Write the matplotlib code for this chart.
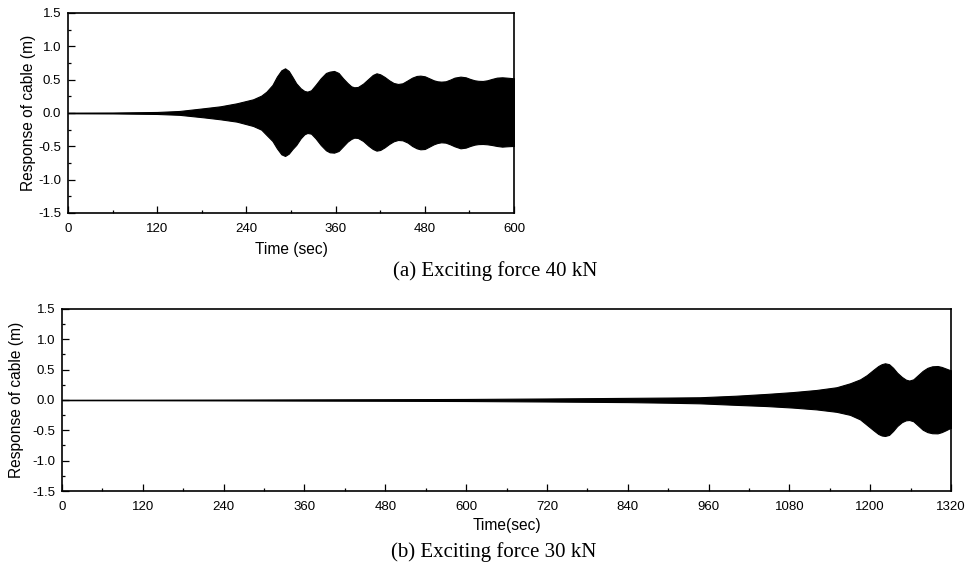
import numpy as np
import matplotlib
matplotlib.use("Agg")
from matplotlib import pyplot as plt
from matplotlib.ticker import MultipleLocator

plt.rcParams['font.family'] = ['Liberation Sans', 'DejaVu Sans']
plt.rcParams['axes.unicode_minus'] = False

# envelope of the cable response
# (a) exciting force 40 kN
t_a = [0, 60, 120, 150, 182, 205, 227, 249, 260, 267, 275, 281, 287, 292, 297,
       302, 307, 313, 318, 322, 327, 333, 340, 347, 352, 358, 364, 370, 376, 381,
       385, 390, 397, 404, 410, 415, 420, 426, 432, 438, 444, 450, 457, 463, 469,
       474, 480, 486, 492, 497, 502, 508, 514, 520, 528, 535, 541, 547, 552, 558,
       564, 570, 577, 584, 590, 595, 600]
up_a = [0.005, 0.007, 0.015, 0.03, 0.07, 0.10, 0.145, 0.205, 0.26, 0.32, 0.42, 0.545, 0.64, 0.67, 0.63,
        0.54, 0.445, 0.37, 0.33, 0.32, 0.34, 0.42, 0.52, 0.60, 0.62, 0.63, 0.60, 0.52, 0.45, 0.40,
        0.385, 0.39, 0.44, 0.51, 0.57, 0.595, 0.58, 0.54, 0.49, 0.45, 0.435, 0.445, 0.49, 0.53, 0.555,
        0.56, 0.55, 0.52, 0.49, 0.475, 0.47, 0.475, 0.50, 0.53, 0.545, 0.535, 0.51, 0.49, 0.482, 0.48,
        0.49, 0.51, 0.53, 0.535, 0.53, 0.525, 0.52]
lo_a = [-0.005, -0.007, -0.015, -0.028, -0.065, -0.095, -0.13, -0.195, -0.25, -0.33, -0.42, -0.53, -0.62, -0.645, -0.61,
        -0.54, -0.48, -0.38, -0.32, -0.30, -0.31, -0.38, -0.48, -0.56, -0.59, -0.595, -0.57, -0.50, -0.43, -0.39,
        -0.37, -0.375, -0.42, -0.49, -0.54, -0.565, -0.555, -0.515, -0.465, -0.425, -0.405, -0.41, -0.445, -0.495, -0.53,
        -0.545, -0.54, -0.505, -0.47, -0.45, -0.44, -0.445, -0.47, -0.50, -0.53, -0.52, -0.495, -0.475, -0.467, -0.465,
        -0.47, -0.48, -0.495, -0.505, -0.50, -0.497, -0.495]

# (b) exciting force 30 kN
t_b = [0, 120, 240, 360, 480, 600, 720, 840, 900, 947, 1000, 1046, 1085, 1120, 1150,
       1170, 1185, 1195, 1205, 1212, 1217, 1222, 1228, 1234, 1240, 1247, 1253, 1258, 1264, 1271,
       1278, 1285, 1292, 1300, 1306, 1312, 1318, 1320]
up_b = [0.004, 0.005, 0.007, 0.01, 0.013, 0.017, 0.025, 0.035, 0.04, 0.045, 0.07, 0.10, 0.13, 0.165, 0.21,
        0.275, 0.34, 0.41, 0.50, 0.56, 0.59, 0.605, 0.59, 0.53, 0.45, 0.38, 0.335, 0.32, 0.34, 0.41,
        0.48, 0.53, 0.555, 0.56, 0.545, 0.52, 0.495, 0.49]
lo_b = [-0.004, -0.005, -0.007, -0.01, -0.013, -0.017, -0.025, -0.035, -0.045, -0.055, -0.08, -0.10, -0.125, -0.155, -0.195,
        -0.245, -0.32, -0.41, -0.50, -0.56, -0.585, -0.593, -0.575, -0.51, -0.43, -0.365, -0.335, -0.33, -0.35, -0.42,
        -0.49, -0.53, -0.548, -0.55, -0.53, -0.50, -0.467, -0.46]

captions = ["(a) Exciting force 40 kN", "(b) Exciting force 30 kN"]
xlabels = ["Time (sec)", "Time(sec)"]

fig = plt.figure(figsize=(9.66, 5.66), dpi=100)
ax1 = fig.add_axes([0.0704, 0.6237, 0.4617, 0.3534])
ax2 = fig.add_axes([0.0642, 0.1325, 0.9203, 0.3216])


def style(ax, t, up, lo, tmax, xlabel, ylabelpad, xlabelpad):
    ax.fill_between(t, up, lo, color='black', linewidth=0.8)
    ax.set_xlim(0, tmax)
    ax.set_ylim(-1.5, 1.5)
    ax.xaxis.set_major_locator(MultipleLocator(120))
    ax.xaxis.set_minor_locator(MultipleLocator(60))
    ax.yaxis.set_major_locator(MultipleLocator(0.5))
    ax.yaxis.set_minor_locator(MultipleLocator(0.25))
    ax.yaxis.set_major_formatter(matplotlib.ticker.FormatStrFormatter('%.1f'))
    ax.tick_params(which='both', direction='in', top=False, right=False,
                   labelsize=9.5, width=0.9)
    ax.tick_params(which='major', length=5)
    ax.tick_params(which='minor', length=2.5)
    ax.tick_params(axis='x', which='major', pad=7)
    ax.tick_params(axis='y', which='major', pad=5)
    for s in ax.spines.values():
        s.set_linewidth(1.2)
    ax.set_xlabel(xlabel, fontsize=11.2, labelpad=xlabelpad)
    ax.set_ylabel("Response of cable (m)", fontsize=11.2, labelpad=ylabelpad)


style(ax1, t_a, up_a, lo_a, 600, xlabels[0], 1.5, 5)
style(ax2, t_b, up_b, lo_b, 1320, xlabels[1], 5.5, 4)

fig.text(0.5124, 0.521, captions[0], ha='center', va='center',
         family=['Liberation Serif', 'DejaVu Serif'], fontsize=15)
fig.text(0.5114, 0.0247, captions[1], ha='center', va='center',
         family=['Liberation Serif', 'DejaVu Serif'], fontsize=15)

fig.savefig("out.png", dpi=100)
